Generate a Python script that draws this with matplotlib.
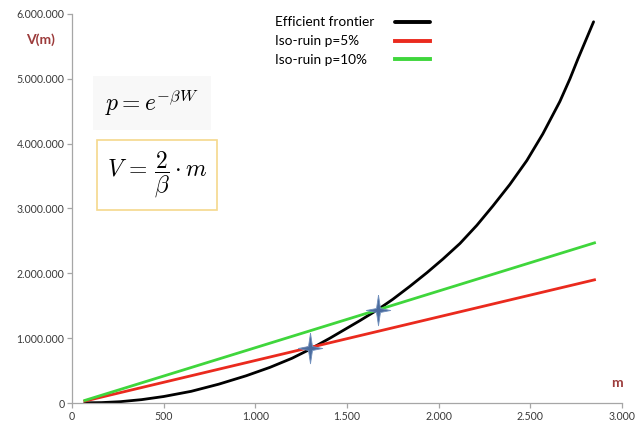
#efficient frontier vs iso-ruin lines, rebuilt from the excel screenshot
import matplotlib
matplotlib.use("Agg")
import matplotlib.pyplot as plt
from matplotlib.path import Path
from matplotlib.ticker import FuncFormatter, MultipleLocator

#values (m on x, V(m) on y)
frontier_m = [70, 160, 262, 380, 500, 650, 800, 950, 1080, 1200, 1292, 1407, 1570,
              1668, 1750, 1843, 1936, 2023, 2116, 2208, 2296, 2388, 2481, 2568,
              2661, 2716, 2760, 2845]
frontier_v = [3000, 6000, 20000, 52000, 100000, 180000, 290000, 420000, 550000,
              690000, 820000, 1000000, 1270000, 1440000, 1600000, 1800000, 2010000,
              2220000, 2460000, 2740000, 3040000, 3370000, 3740000, 4150000,
              4650000, 5000000, 5310000, 5880000]

ruin5_m = [70, 2850]
ruin5_v = [30000, 1900000]
ruin10_m = [70, 2850]
ruin10_v = [40000, 2470000]

#where the frontier crosses the two iso-ruin lines
star_m = [1300, 1668]
star_v = [845000, 1440000]

labels = ["Efficient frontier", "Iso-ruin p=5%", "Iso-ruin p=10%"]

plt.rcParams["font.family"] = ["Lato", "DejaVu Sans"]
plt.rcParams["mathtext.fontset"] = "cm"

W, H = 635, 430
fig = plt.figure(figsize=(W / 100, H / 100), dpi=100)
ax = fig.add_axes([72 / W, 1 - 403 / H, (622 - 72) / W, (403 - 14) / H])

l1, = ax.plot(frontier_m, frontier_v, color="black", lw=2, solid_capstyle="round",
              solid_joinstyle="round")
l2, = ax.plot(ruin5_m, ruin5_v, color="#ea2a1e", lw=2)
l3, = ax.plot(ruin10_m, ruin10_v, color="#3fd63c", lw=2)

#four pointed star like the excel picture, taller than wide
star = Path([(0, 1), (0.13, 0.13), (0.8, 0), (0.13, -0.13), (0, -1),
             (-0.13, -0.13), (-0.8, 0), (-0.13, 0.13), (0, 1)])
ax.plot(star_m, star_v, ls="none", marker=star, markersize=22,
        markerfacecolor="#4b6c9e", markeredgecolor="#7190bd", markeredgewidth=0.6, zorder=5)

ax.set_xlim(0, 3000)
ax.set_ylim(0, 6000000)
ax.xaxis.set_major_locator(MultipleLocator(500))
ax.yaxis.set_major_locator(MultipleLocator(1000000))
dots = FuncFormatter(lambda v, p: f"{int(round(v)):,}".replace(",", "."))
ax.xaxis.set_major_formatter(dots)
ax.yaxis.set_major_formatter(dots)

for s in ["top", "right"]:
    ax.spines[s].set_visible(False)
for s in ["left", "bottom"]:
    ax.spines[s].set_color("#a6a6a6")
    ax.spines[s].set_linewidth(0.9)
ax.tick_params(direction="out", length=3.5, width=0.9, color="#a6a6a6",
               labelsize=7.6, labelcolor="#3a3a3a", pad=2)

#axis names, placed like the excel text boxes
fig.text(41 / W, 1 - 40 / H, "V(m)", color="#9c3b3b", fontsize=10, fontweight="bold",
         ha="center", va="center")
fig.text(617 / W, 1 - 383 / H, "m", color="#9c3b3b", fontsize=10, fontweight="bold",
         ha="center", va="center")

#the two formula pictures
fig.text(152 / W, 1 - 103 / H, r"$p = e^{-\beta W}$", fontsize=17, ha="center", va="center",
         bbox=dict(boxstyle="square,pad=0.5", fc="#f8f8f8", ec="none"))
fig.text(157 / W, 1 - 175 / H, r"$V\,=\,\dfrac{2}{\beta}\cdot m$", fontsize=17,
         ha="center", va="center",
         bbox=dict(boxstyle="square,pad=0.4", fc="white", ec="#f5d88c", lw=1.2))

#legend: text on the left, sample line on the right
leg = ax.legend([l1, l2, l3], labels, loc="upper left",
                bbox_to_anchor=(275 / W, 1 - 16.5 / H), bbox_transform=fig.transFigure,
                frameon=False, markerfirst=False, handlelength=2.6, fontsize=9.8,
                borderpad=0, borderaxespad=0, labelspacing=0.5)
for t in leg.get_texts():
    t.set_color("black")
for h in leg.get_lines():
    h.set_linewidth(2.8)
#push every sample line to the same right edge so the labels stay left aligned
for col in leg._legend_handle_box.get_children():
    for row in col.get_children():
        row.mode = "expand"
        row.width = 155

fig.savefig("out.png", dpi=100)
